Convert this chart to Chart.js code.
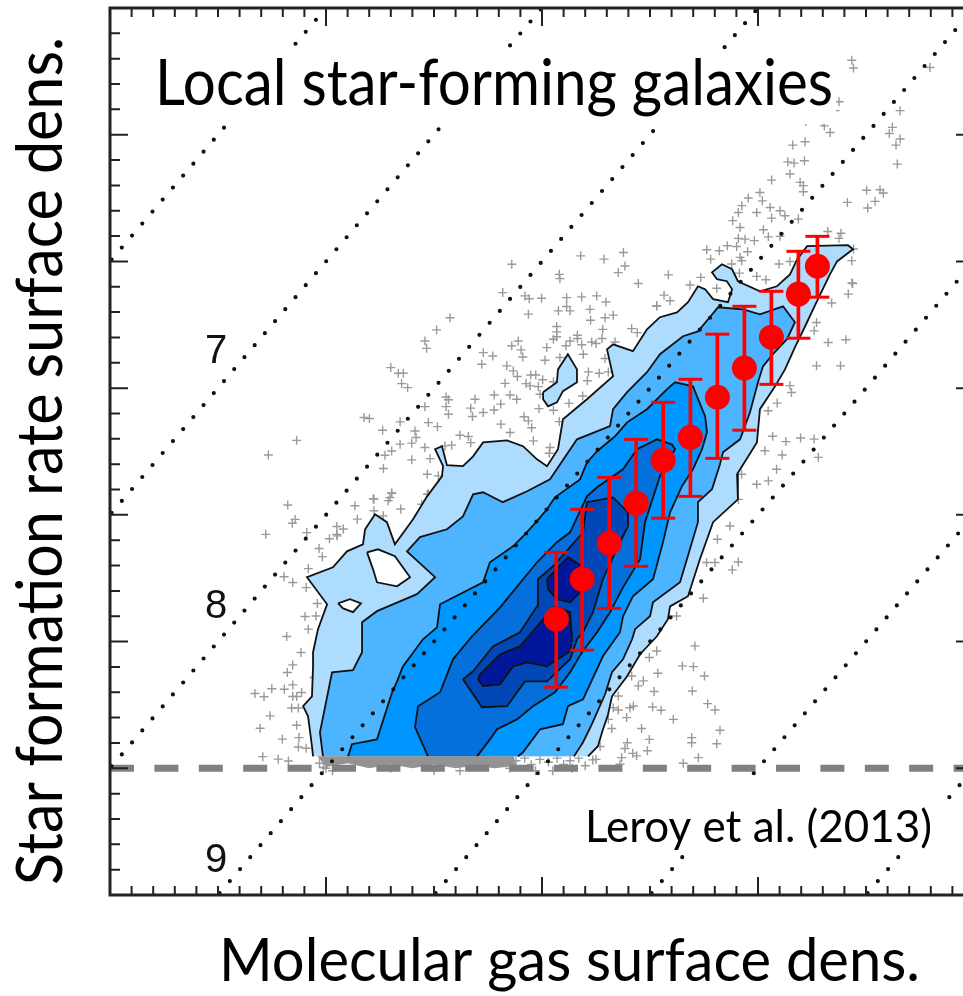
<!DOCTYPE html>
<html>
<head>
<meta charset="utf-8">
<style>
  html, body { margin: 0; padding: 0; background: #fff; overflow: hidden; }
  canvas { display: block; }
</style>
<script src="https://cdn.jsdelivr.net/npm/chart.js@4/dist/chart.umd.min.js"></script>
</head>
<body>
<canvas id="kennicutt" width="1000" height="996"></canvas>
<script>
// log gas surface density, log SFR surface density (dex), binned medians
const binX = [1.066, 1.186, 1.311, 1.436, 1.561, 1.687, 1.812, 1.937, 2.062, 2.187, 2.275];
const binY = [-2.412, -2.254, -2.112, -1.954, -1.785, -1.694, -1.536, -1.421, -1.299, -1.129, -1.019];
const binLow = [-2.68, -2.534, -2.369, -2.203, -2.013, -1.927, -1.777, -1.666, -1.485, -1.303, -1.141];
const binHigh = [-2.148, -1.978, -1.852, -1.702, -1.556, -1.465, -1.287, -1.177, -1.118, -0.96, -0.901];

// constant depletion time lines, end points
const depletionLines = [
  [[-1, -1], [0, 0]],
  [[-1, -2], [1, 0]],
  [[-1, -3], [2, 0]],
  [[-0.5, -3.5], [3, 0]],
  [[0.5, -3.5], [3, -1]],
  [[1.5, -3.5], [3, -2]],
  [[2.5, -3.5], [3, -3]],
];
const sensitivityLimit = [[-1, -3], [3, -3]];

const level1 = [[-.06,-2.953],[-.065,-2.913],[-.083,-2.795],[-.106,-2.755],[-.065,-2.716],[-.06,-2.598],[-.06,-2.542],[-.037,-2.451],[.005,-2.353],[-.088,-2.246],[.032,-2.207],[.097,-2.144],[.171,-2.116],[.181,-2.057],[.227,-1.998],[.282,-2.029],[.319,-2.116],[.403,-2.017],[.468,-1.927],[.537,-1.848],[.542,-1.808],[.505,-1.741],[.537,-1.729],[.56,-1.804],[.634,-1.808],[.681,-1.769],[.727,-1.714],[.838,-1.706],[.912,-1.729],[.977,-1.781],[1.023,-1.808],[1.074,-1.741],[1.097,-1.623],[1.208,-1.544],[1.329,-1.453],[1.301,-1.347],[1.329,-1.327],[1.421,-1.354],[1.486,-1.268],[1.546,-1.22],[1.625,-1.201],[1.676,-1.161],[1.722,-1.098],[1.755,-1.11],[1.792,-1.149],[1.861,-1.161],[1.88,-1.11],[1.856,-1.078],[1.81,-1.07],[1.787,-1.043],[1.833,-1.011],[1.88,-1.031],[1.907,-1.078],[2.009,-1.118],[2.088,-1.098],[2.148,-1.051],[2.181,-.992],[2.227,-.94],[2.417,-.936],[2.44,-.952],[2.366,-1],[2.333,-1.051],[2.273,-1.157],[2.227,-1.24],[2.171,-1.339],[2.125,-1.426],[2.079,-1.493],[2.009,-1.583],[1.995,-1.714],[1.903,-1.84],[1.907,-1.939],[1.792,-2.029],[1.731,-2.175],[1.676,-2.321],[1.593,-2.361],[1.583,-2.412],[1.532,-2.479],[1.454,-2.55],[1.394,-2.637],[1.324,-2.716],[1.306,-2.787],[1.278,-2.858],[1.259,-2.913],[1.213,-2.953]];
const level1Island = [[1.005,-1.516],[1.069,-1.477],[1.074,-1.426],[1.12,-1.366],[1.162,-1.426],[1.162,-1.477],[1.097,-1.512],[1.069,-1.556],[1.028,-1.572],[1.005,-1.544],[1.005,-1.516]];
const level1Hole = [[.19,-2.148],[.241,-2.136],[.319,-2.163],[.389,-2.246],[.329,-2.282],[.236,-2.266],[.218,-2.215],[.19,-2.148]];
const level1Hole2 = [[.056,-2.349],[.111,-2.333],[.162,-2.349],[.125,-2.384],[.079,-2.369],[.056,-2.349]];
const level2 = [[-.014,-2.953],[-.028,-2.858],[.028,-2.621],[.125,-2.613],[.167,-2.542],[.167,-2.424],[.236,-2.38],[.421,-2.313],[.505,-2.246],[.375,-2.144],[.435,-2.088],[.56,-2.057],[.634,-2.006],[.681,-1.919],[.727,-1.911],[.819,-1.95],[.931,-1.907],[1.037,-1.86],[1.162,-1.702],[1.315,-1.65],[1.329,-1.583],[1.394,-1.516],[1.486,-1.437],[1.546,-1.366],[1.653,-1.295],[1.722,-1.276],[1.769,-1.228],[1.815,-1.181],[1.931,-1.189],[2.009,-1.209],[2.116,-1.177],[2.171,-1.24],[2.134,-1.307],[2.069,-1.366],[2.023,-1.414],[2,-1.477],[1.963,-1.595],[1.917,-1.702],[1.838,-1.753],[1.824,-1.8],[1.787,-1.899],[1.722,-1.95],[1.722,-2.029],[1.671,-2.175],[1.639,-2.266],[1.514,-2.345],[1.5,-2.4],[1.431,-2.451],[1.417,-2.491],[1.375,-2.57],[1.324,-2.621],[1.292,-2.708],[1.231,-2.826],[1.19,-2.897],[1.148,-2.953]];
const level3 = [[.102,-2.953],[.12,-2.905],[.236,-2.886],[.306,-2.7],[.329,-2.657],[.356,-2.598],[.449,-2.491],[.514,-2.444],[.528,-2.353],[.727,-2.266],[.759,-2.187],[.866,-2.124],[.921,-2.077],[.977,-2.025],[1.023,-1.978],[1.06,-1.931],[1.176,-1.86],[1.208,-1.793],[1.255,-1.749],[1.338,-1.69],[1.394,-1.635],[1.486,-1.583],[1.579,-1.504],[1.616,-1.477],[1.699,-1.493],[1.755,-1.611],[1.764,-1.674],[1.741,-1.741],[1.699,-1.82],[1.648,-1.887],[1.593,-1.99],[1.56,-2.108],[1.514,-2.254],[1.421,-2.321],[1.375,-2.4],[1.361,-2.463],[1.282,-2.558],[1.19,-2.728],[1.12,-2.755],[1.097,-2.826],[.991,-2.846],[.912,-2.937],[.889,-2.953]];
const level4 = [[.472,-2.953],[.412,-2.838],[.426,-2.755],[.528,-2.7],[.588,-2.57],[.676,-2.479],[.806,-2.365],[.977,-2.187],[1.069,-2.108],[1.13,-2.069],[1.208,-1.927],[1.255,-1.891],[1.375,-1.82],[1.44,-1.741],[1.532,-1.702],[1.602,-1.722],[1.616,-1.741],[1.546,-1.848],[1.477,-2.029],[1.454,-2.175],[1.375,-2.286],[1.315,-2.384],[1.255,-2.463],[1.185,-2.542],[1.13,-2.621],[1.06,-2.7],[.958,-2.755],[.884,-2.807],[.792,-2.846],[.759,-2.886],[.699,-2.953]];
const level5 = [[.634,-2.649],[.681,-2.617],[.773,-2.519],[.898,-2.463],[.977,-2.361],[.981,-2.254],[1.051,-2.203],[1.19,-2.069],[1.208,-1.95],[1.329,-1.931],[1.398,-1.99],[1.398,-2.045],[1.361,-2.108],[1.282,-2.254],[1.236,-2.384],[1.19,-2.463],[1.162,-2.491],[1.13,-2.57],[1.023,-2.657],[.921,-2.657],[.838,-2.755],[.722,-2.759],[.634,-2.649]];
const level6 = [[.704,-2.649],[.713,-2.629],[.806,-2.55],[.898,-2.519],[1.005,-2.412],[1.06,-2.361],[1.13,-2.384],[1.139,-2.491],[1.13,-2.538],[1.023,-2.598],[.931,-2.582],[.866,-2.598],[.806,-2.669],[.727,-2.676],[.704,-2.649]];
const level6Upper = [[1.023,-2.254],[1.12,-2.167],[1.185,-2.203],[1.176,-2.306],[1.13,-2.345],[1.069,-2.333],[1.028,-2.294],[1.023,-2.254]];
const crowdedRow = [[-.04,-2.953],[.87,-2.953],[.88,-2.99],[.78,-3],[.69,-2.99],[.6,-3],[.5,-2.985],[.4,-3],[.3,-2.985],[.2,-3],[.1,-2.98],[0,-2.995]];

const pixels = [
[.86,-1.011],[1.179,-.978],[1.287,-.991],[1.377,-.965],[1.384,-1.018],[1.353,-1.044],[1.08,-1.051],[1.083,-1.068],[1.446,-1.087],[.818,-1.123],[.921,-1.136],[.941,-1.147],[.998,-1.145],[1.114,-1.143],[1.184,-1.14],[1.253,-1.136],[1.296,-1.16],[1.531,-1.176],[1.076,-1.195],[1.114,-1.178],[1.13,-1.195],[1.222,-1.189],[1.292,-1.222],[1.33,-1.212],[.937,-1.208],[1.225,-1.232],[.574,-1.222],[.512,-1.27],[1.068,-1.257],[1.068,-1.278],[1.068,-1.297],[1.164,-1.291],[1.164,-1.304],[1.415,-1.265],[1.441,-1.281],[1.281,-1.268],[1.278,-1.304],[.458,-1.314],[.466,-1.343],[.89,-1.314],[.86,-1.333],[.903,-1.349],[1.022,-1.34],[1.053,-1.307],[1.13,-1.314],[1.111,-1.333],[1.184,-1.329],[1.23,-1.318],[1.25,-1.324],[1.338,-1.318],[.728,-1.36],[.721,-1.406],[.772,-1.373],[.911,-1.377],[1.014,-1.39],[1.083,-1.379],[1.191,-1.366],[1.292,-1.383],[.3,-1.419],[.335,-1.441],[.358,-1.441],[.35,-1.482],[.378,-1.498],[.837,-1.412],[.867,-1.432],[.886,-1.454],[.948,-1.448],[.971,-1.448],[1.003,-1.467],[.829,-1.481],[.926,-1.482],[.945,-1.491],[.983,-1.494],[1.053,-1.475],[1.215,-1.436],[1.265,-1.441],[1.307,-1.436],[1.21,-1.471],[.779,-1.527],[.852,-1.527],[.883,-1.544],[.991,-1.524],[.556,-1.535],[.567,-1.546],[.458,-1.573],[.556,-1.573],[.567,-1.603],[.69,-1.544],[.67,-1.579],[.678,-1.612],[.728,-1.596],[.778,-1.586],[.809,-1.563],[1.125,-1.56],[1.188,-1.531],[.986,-1.581],[1.053,-1.587],[.176,-1.616],[.201,-1.62],[.343,-1.633],[.474,-1.636],[.516,-1.652],[.917,-1.613],[.937,-1.629],[.952,-1.656],[1.08,-1.632],[.81,-1.642],[.262,-1.666],[.412,-1.669],[.417,-1.695],[.62,-1.686],[.659,-1.691],[.852,-1.675],[.67,-1.715],[.397,-1.717],[.343,-1.721],[.458,-1.734],[.582,-1.725],[.551,-1.728],[.96,-1.708],[1.037,-1.734],[1.034,-1.757],[.304,-1.748],[.273,-1.765],[.397,-1.783],[.482,-1.778],[.266,-1.817],[.469,-1.84],[.52,-1.846],[.304,-1.915],[.219,-1.936],[.296,-1.932],[.469,-1.919],
[2.434,-.206],[2.442,-.237],[2.796,-.235],[2.375,-.37],[2.357,-.405],[2.246,-.392],[2.658,-.405],[2.221,-.448],[2.3,-.449],[2.307,-.465],[2.334,-.491],[2.622,-.471],[2.608,-.495],[2.658,-.517],[2.639,-.541],[2.161,-.541],[2.218,-.528],[2.138,-.607],[2.167,-.612],[2.215,-.603],[2.645,-.616],[2.148,-.655],[2.195,-.688],[2.21,-.701],[2.21,-.725],[2.063,-.679],[2.009,-.728],[1.955,-.75],[2.02,-.761],[1.925,-.78],[1.909,-.807],[1.994,-.807],[2.056,-.787],[2.102,-.8],[2.125,-.82],[2.063,-.829],[2.187,-.833],[1.883,-.839],[1.917,-.866],[2.025,-.875],[2.048,-.903],[2.102,-.901],[1.909,-.909],[1.94,-.912],[1.983,-.918],[2.503,-.719],[2.565,-.717],[2.58,-.73],[2.414,-.767],[2.542,-.763],[2.508,-.789],[2.323,-.882],[2.384,-.889],[2.375,-.909],[1.763,-.954],[1.821,-.958],[1.858,-.938],[1.901,-.941],[1.952,-.962],[1.917,-.984],[1.925,-.997],[1.781,-.991],[1.878,-1.01],[2.097,-1.01],[2.148,-1],[2.442,-.951],[2.434,-.997],[1.914,-1.046],[1.994,-1.059],[2.037,-1.072],[1.585,-1.053],[1.735,-1.063],[1.685,-1.093],[1.809,-1.106],[1.565,-1.133],[1.593,-1.155],[1.531,-1.175],[2.438,-1.087],[2.418,-1.129],[2.341,-1.164],
[2.271,-1.241],[2.26,-1.274],[2.325,-1.32],[2.407,-1.309],[2.271,-1.412],[2.382,-1.412],[2.148,-1.49],[2.155,-1.517],[2.089,-1.559],[2.047,-1.589],[2.068,-1.69],[2.129,-1.711],[2.197,-1.697],[2.26,-1.701],[2.032,-1.747],[2.112,-1.764],[2.279,-1.773],[2.435,-1.085],
[.134,-1.964],[.145,-2.017],[.222,-1.938],[.288,-1.944],[.304,-1.914],[.346,-1.977],[.222,-1.984],[.265,-2.004],[.443,-1.958],[.474,-1.918],[.204,-2.155],[.288,-2.207],[.25,-2.227],[.242,-2.24],[.111,-2.352],[.08,-2.056],[.052,-2.083],
[1.708,-2.517],[1.531,-2.537],[1.497,-2.563],[1.65,-2.596],[1.701,-2.599],[1.536,-2.625],[1.752,-2.636],[1.415,-2.636],[1.469,-2.655],[1.446,-2.675],[1.519,-2.697],[1.696,-2.695],[1.353,-2.715],[1.767,-2.745],[1.801,-2.77],[1.33,-2.761],[1.353,-2.77],[1.423,-2.754],[1.407,-2.761],[1.512,-2.758],[1.551,-2.771],[1.392,-2.8],[1.608,-2.807],[1.307,-2.807],[1.323,-2.843],[1.461,-2.843],[1.824,-2.85],[1.497,-2.886],[1.693,-2.879],[1.693,-2.899],[1.809,-2.903],[1.395,-2.899],[1.384,-2.922],[1.488,-2.931],[1.42,-2.941],[1.438,-2.951],[1.269,-2.914],[1.369,-2.958],[1.724,-2.958],[1.654,-2.98],[1.235,-2.967],[1.361,-2.984],
[1.87,-2.044],[1.812,-2.096],[1.762,-2.188],[1.801,-2.188],[1.909,-2.186],[1.881,-2.217],[1.747,-2.329],[1.623,-2.399],[2.086,-1.82],[2.048,-1.866],[1.994,-1.879],[1.909,-1.939],[1.924,-1.84],
[-.136,-1.706],[-.267,-1.764],[-.177,-1.961],[-.143,-2.018],[-.156,-2.033],[-.279,-2.077],[-.089,-2.07],[.016,-2.094],[.05,-2.077],[.05,-2.046],[-.032,-2.133],[-.017,-2.165],[-.194,-2.244],[-.154,-2.267],[-.082,-2.212],[-.092,-2.287],[-.04,-2.35],[-.097,-2.401],[-.046,-2.399],[-.082,-2.451],[-.182,-2.48],[-.116,-2.543],[-.154,-2.592],[-.179,-2.622],[-.055,-2.642],[-.154,-2.671],[-.193,-2.688],[-.113,-2.701],[-.251,-2.686],[-.329,-2.705],[-.287,-2.718],[-.154,-2.717],[-.136,-2.717],[-.159,-2.762],[-.128,-2.762],[-.259,-2.793],[-.136,-2.83],[-.305,-2.842],[-.202,-2.885],[-.125,-2.879],[-.128,-2.916],[-.092,-2.921],[-.293,-2.954],[-.221,-2.964],[-.174,-2.971],[-.012,-2.997],
[.88,-2.97],[.92,-2.96],[.95,-2.985],[.99,-2.965],[1.03,-2.975],[1.07,-2.96],[1.1,-2.985],[1.13,-2.97],[1.17,-2.96],[1.2,-2.99],[1.25,-2.965],[-.03,-2.98],[0,-3],[.03,-3.01],[.3,-3],[.5,-3.01],[.62,-3.01],[.85,-3],[.97,-3.01],[1.05,-3.01],[1.14,-3]
];

// label text and where it goes on the page
const notes = [
  { text: "Local star-forming galaxies", x: 155, y: 105, size: 64, width: 678, font: "Lato", color: "#000" },
  { text: "Leroy et al. (2013)", x: 585, y: 842, size: 44, width: 348, font: "Lato", color: "#000" },
  { text: "Molecular gas surface dens.", x: 219, y: 981, size: 60, width: 701, font: "Lato", color: "#000" },
  { text: "7", x: 205, y: 363, size: 40, font: "Liberation Sans", color: "#111" },
  { text: "8", x: 205, y: 618, size: 40, font: "Liberation Sans", color: "#111" },
  { text: "9", x: 205, y: 872, size: 40, font: "Liberation Sans", color: "#111" },
];
const yTitle = { text: "Star formation rate surface dens.", x: 62, y: 885, size: 64, width: 848, font: "Lato" };
const whiteBoxes = [[150, 52, 686, 72], [578, 782, 364, 70]];

function pts(list) {
  return list.map(function (p) { return { x: p[0], y: p[1] }; });
}

function contour(list, color, order) {
  return {
    data: pts(list), showLine: true, fill: "shape", backgroundColor: color,
    borderColor: "#111", borderWidth: 1.8, pointRadius: 0, tension: 0, order: order,
  };
}

const barPoints = [];
binX.forEach(function (x, i) {
  barPoints.push({ x: x, y: binLow[i] }, { x: x, y: binHigh[i] }, { x: x, y: NaN });
});

const datasets = [
  { data: binX.map(function (x, i) { return { x: x, y: binY[i] }; }), pointRadius: 12.5, pointBackgroundColor: "#ff0000", pointBorderWidth: 0, order: 1 },
  { data: barPoints, showLine: true, borderColor: "#ff0000", borderWidth: 3.7, pointStyle: "line", pointRadius: 12, pointBorderColor: "#ff0000", pointBorderWidth: 3, order: 2 },
  { data: pts(sensitivityLimit), showLine: true, borderColor: "#808080", borderWidth: 7, borderDash: [24, 20.4], pointRadius: 0, order: 4 },
  { data: pts(pixels), pointStyle: "cross", pointRadius: 4.5, pointBorderColor: "#9a9a9a", pointBorderWidth: 1.4, order: 30 },
  contour(level1, "#aedcff", 29),
  contour(level1Island, "#aedcff", 28),
  contour(level1Hole, "#ffffff", 28),
  contour(level1Hole2, "#ffffff", 28),
  contour(level2, "#4db5ff", 27),
  contour(level3, "#0096ff", 26),
  contour(level4, "#0570dc", 25),
  contour(level5, "#0048b8", 24),
  contour(level6, "#00179a", 23),
  contour(level6Upper, "#00179a", 23),
  { data: pts(crowdedRow), showLine: true, fill: "shape", backgroundColor: "#939393", borderWidth: 0, pointRadius: 0, order: 21 },
];
depletionLines.forEach(function (line) {
  datasets.push({
    data: pts(line), showLine: true, borderColor: "#111", borderWidth: 4.2,
    borderDash: [0, 15.75], borderDashOffset: -2.5, borderCapStyle: "round", pointRadius: 0, order: 3,
  });
});

// labels sit on white boxes above the marks, the frame has inward ticks on all sides
const overlay = {
  id: "overlay",
  afterDatasetsDraw: function (chart) {
    const c = chart.ctx;
    const a = chart.chartArea;
    c.save();
    c.fillStyle = "#fff";
    whiteBoxes.forEach(function (b) { c.fillRect(b[0], b[1], b[2], b[3]); });

    c.strokeStyle = "#222";
    c.lineWidth = 2;
    chart.scales.x.ticks.forEach(function (t) {
      const px = chart.scales.x.getPixelForValue(t.value);
      const len = Math.round(t.value * 10) % 10 === 0 ? 18 : 9;
      c.beginPath();
      c.moveTo(px, a.top); c.lineTo(px, a.top + len);
      c.moveTo(px, a.bottom); c.lineTo(px, a.bottom - len);
      c.stroke();
    });
    chart.scales.y.ticks.forEach(function (t) {
      const py = chart.scales.y.getPixelForValue(t.value);
      const len = Math.round(t.value * 10) % 5 === 0 ? 18 : 10;
      c.beginPath();
      c.moveTo(a.left, py); c.lineTo(a.left + len, py);
      c.moveTo(a.right, py); c.lineTo(a.right - len, py);
      c.stroke();
    });
    c.lineWidth = 3;
    c.strokeRect(a.left, a.top, a.right - a.left, a.bottom - a.top);

    notes.forEach(function (n) {
      c.font = n.size + "px '" + n.font + "'";
      c.fillStyle = n.color;
      c.textBaseline = "alphabetic";
      if (n.width) c.fillText(n.text, n.x, n.y, n.width);
      else c.fillText(n.text, n.x, n.y);
    });
    c.translate(yTitle.x, yTitle.y);
    c.rotate(-Math.PI / 2);
    c.font = yTitle.size + "px '" + yTitle.font + "'";
    c.fillStyle = "#000";
    c.fillText(yTitle.text, 0, 0, yTitle.width);
    c.restore();
  },
};

new Chart(document.getElementById("kennicutt"), {
  type: "scatter",
  data: { datasets: datasets },
  options: {
    responsive: false,
    animation: false,
    events: [],
    layout: { autoPadding: false, padding: { left: 110, top: 8, right: 26, bottom: 101 } },
    plugins: { legend: { display: false }, tooltip: { enabled: false } },
    scales: {
      x: { type: "linear", display: false, min: -1, max: 3, ticks: { stepSize: 0.1, autoSkip: false } },
      y: { type: "linear", display: false, min: -3.5, max: 0, ticks: { stepSize: 0.1, autoSkip: false } },
    },
  },
  plugins: [overlay],
});
</script>
</body>
</html>
